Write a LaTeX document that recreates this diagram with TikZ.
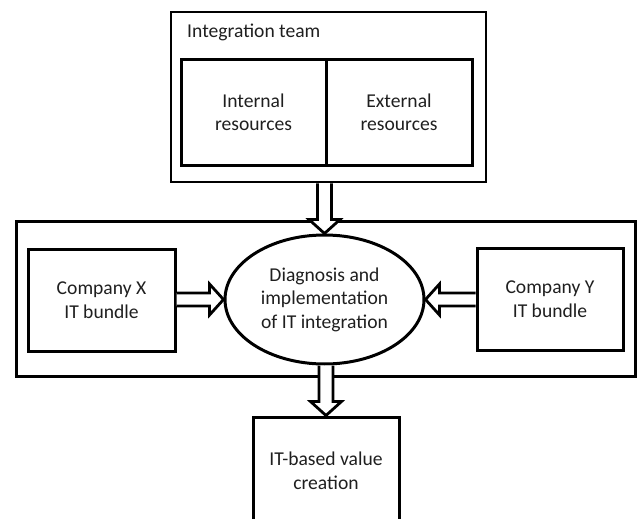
\documentclass[tikz,border=0pt]{standalone}
\usepackage{fontspec}
\setmainfont{Carlito}
\usetikzlibrary{calc,shapes.geometric}
\newcommand\myArrD[2]{\draw[blk] let \p1=(#1), \p2=(#2) in (\x2-7pt,\y1) -- (\x2-7pt,\y2+14pt) -- (\x2-15.5pt,\y2+14pt) -- (\x2,\y2) -- (\x2+15.5pt,\y2+14pt) -- (\x2+7pt,\y2+14pt) -- (\x2+7pt,\y1);}
\newcommand\myArrR[2]{\draw[blk] let \p1=(#1), \p2=(#2) in (\x1,\y2+6.5pt) -- (\x2-14pt,\y2+6.5pt) -- (\x2-14pt,\y2+15.5pt) -- (\x2,\y2) -- (\x2-14pt,\y2-15.5pt) -- (\x2-14pt,\y2-6.5pt) -- (\x1,\y2-6.5pt);}
\newcommand\myArrL[2]{\draw[blk] let \p1=(#1), \p2=(#2) in (\x1,\y2+6.5pt) -- (\x2+14pt,\y2+6.5pt) -- (\x2+14pt,\y2+15.5pt) -- (\x2,\y2) -- (\x2+14pt,\y2-15.5pt) -- (\x2+14pt,\y2-6.5pt) -- (\x1,\y2-6.5pt);}
\begin{document}
\begin{tikzpicture}[x=1pt,y=-1pt,
  txt/.style={font=\fontsize{19.6}{23.5}\selectfont, text=black!88, align=center},
  box/.style={draw, line width=3pt, rectangle, inner sep=0pt, txt},
  blk/.style={draw, fill=white, line width=2.8pt, line join=miter}]
\useasboundingbox (0,0) rectangle (637,519);
\clip (0,0) rectangle (637,519);
% top group
\node[box, line width=2.5pt, minimum width=315pt, minimum height=170pt] (team) at (328.5,97) {};
\node[txt, anchor=base west, inner sep=0pt] (teamlbl) at (187,38) {Integration team};
\node[box, minimum width=145pt, minimum height=105pt] (int) at (253.5,112.5) {Internal\\resources};
\node[box, minimum width=146pt, minimum height=105pt] (ext) at (399,112.5) {External\\resources};
% middle group
\node[box, minimum width=619pt, minimum height=155pt] (mid) at (325.5,298.5) {};
\node[box, minimum width=147pt, minimum height=102pt] (cx) at (101.5,300) {Company X\\IT bundle};
\node[box, minimum width=146pt, minimum height=102pt] (cy) at (550,299) {Company Y\\IT bundle};
\node[box, ellipse, minimum width=199pt, minimum height=129pt] (diag) at (324.5,299.5) {Diagnosis and\\implementation\\of IT integration};
% bottom
\node[box, minimum width=146pt, minimum height=108pt] (value) at (326,471) {IT-based value\\creation};
% arrows
\myArrD{team.south}{diag.north}
\myArrR{cx.east}{diag.west}
\myArrL{cy.west}{diag.east}
\myArrD{diag.south}{value.north}
\end{tikzpicture}
\end{document}
